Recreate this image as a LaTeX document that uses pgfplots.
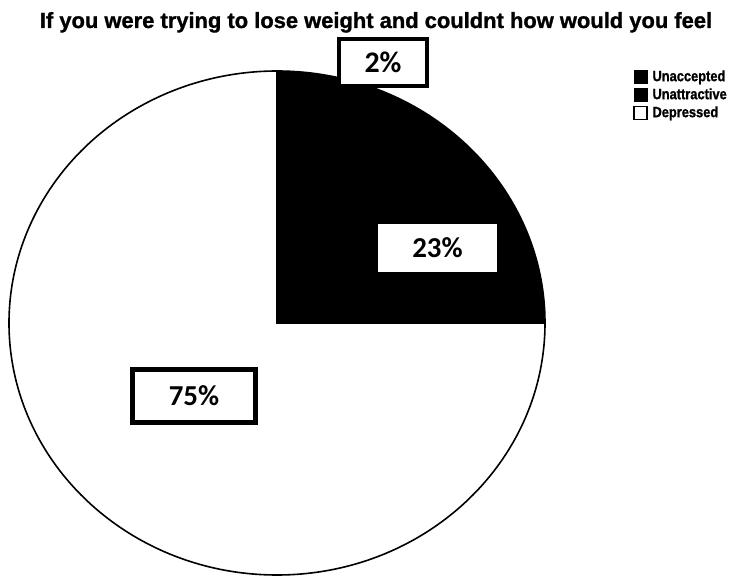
\documentclass[border=0pt]{standalone}
\usepackage{graphicx}
\usepackage{pgfplots}
\pgfplotsset{compat=1.18}
\usepackage{pgfplotstable}
\usepackage{fontspec}
\setmainfont{Liberation Sans}
\newfontfamily\heavy{Liberation Sans Bold}[FakeBold=1.2]
\newfontfamily\calibri{Carlito}

\pgfplotsset{sqimg/.style={legend image code/.code={\draw[##1] (0bp,-6.5bp) rectangle (13bp,6.5bp);}}}

\pgfplotstableread{
label value
Unaccepted 2
Unattractive 23
Depressed 75
}\piedata

\begin{document}
\begin{tikzpicture}[x=1bp,y=1bp]
\begin{axis}[
  at={(0,0)}, anchor=origin,
  scale only axis, width=536bp, height=504bp,
  xmin=-268, xmax=268, ymin=-252, ymax=252,
  hide axis, clip=false,
  legend style={draw=none, fill=none, at={(1.164,1.004)}, anchor=north west,
    font=\heavy\fontsize{15}{17}\selectfont, legend cell align=left,
    row sep=2bp, inner sep=0pt,
    nodes={inner sep=1bp, text height=11bp, text depth=3bp},
    /tikz/every odd column/.append style={column sep=4bp}},
]
\xdef\startangle{90}
\pgfplotstableforeachcolumnelement{value}\of\piedata\as\val{%
  \pgfmathsetmacro\endangle{\startangle-3.6*\val}%
  \ifnum\pgfplotstablerow<2 \def\slicecolor{black}\else\def\slicecolor{white}\fi
  \edef\temp{\noexpand\filldraw[fill=\slicecolor, draw=black, line width=1.6bp]
    (axis cs:0,0) -- (axis cs:{268*cos(\startangle)},{252*sin(\startangle)})
    arc[start angle=\startangle, end angle=\endangle, x radius=268bp, y radius=252bp] -- cycle;}%
  \temp
  \xdef\startangle{\endangle}%
}
\addlegendimage{sqimg, draw=black, fill=black}
\addlegendentry{\scalebox{0.86}[1]{Unaccepted}}
\addlegendimage{sqimg, draw=black, fill=black}
\addlegendentry{\scalebox{0.86}[1]{Unattractive}}
\addlegendimage{sqimg, draw=black, fill=white, line width=1.4bp}
\addlegendentry{\scalebox{0.86}[1]{Depressed}}

\node[draw=black, line width=4bp, fill=white, minimum width=88bp, minimum height=47bp,
  font=\calibri\bfseries\fontsize{30}{32}\selectfont] at (axis cs:106,260.5) {2\%};
\node[draw=none, fill=white, minimum width=119bp, minimum height=48bp,
  font=\calibri\bfseries\fontsize{29}{31}\selectfont] at (axis cs:160.5,75) {23\%};
\node[draw=black, line width=5bp, fill=white, minimum width=123bp, minimum height=53bp,
  font=\calibri\bfseries\fontsize{29}{31}\selectfont] at (axis cs:-83,-73) {75\%};
\end{axis}
\node[anchor=base, font=\heavy\fontsize{22}{24}\selectfont] at (99,295)
  {If you were trying to lose weight and couldnt how would you feel};
\path[use as bounding box] (-277,-248) rectangle (452,323);
\end{tikzpicture}
\end{document}
